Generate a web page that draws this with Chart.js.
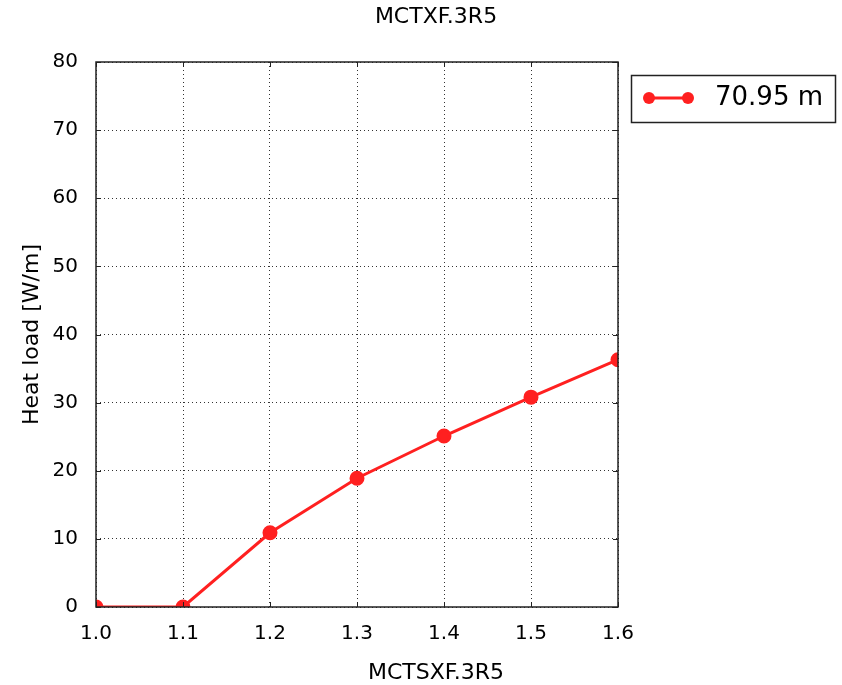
<!DOCTYPE html>
<html>
<head>
<meta charset="utf-8">
<script src="https://cdn.jsdelivr.net/npm/chart.js@4/dist/chart.umd.min.js"></script>
<style>
    html, body { margin: 0; padding: 0; background: #ffffff; }
    #main-chart { display: block; }
</style>
</head>
<body>
<canvas id="main-chart" width="842" height="685"></canvas>
<script>
const chart_width = 842;
const chart_height = 685;

// data
const x_values = [1.0, 1.1, 1.2, 1.3, 1.4, 1.5, 1.6];
const heat_load = [0, 0, 10.9, 18.9, 25.1, 30.8, 36.3];
const series_label = "70.95 m";

const chart_title = "MCTXF.3R5";
const x_title = "MCTSXF.3R5";
const y_title = "Heat load [W/m]";

const line_color = "rgb(255,32,32)";
const font_family = "'DejaVu Sans', sans-serif";

// matplotlib style: inner ticks, title, axis labels, boxed legend
const decorPlugin = {
    id: "decor",
    afterDatasetsDraw(chart) {
        const ctx = chart.ctx;
        const area = chart.chartArea;
        const xs = chart.scales.x;
        const ys = chart.scales.y;
        const tick_len = 5;

        ctx.save();
        ctx.strokeStyle = "#222222";
        ctx.lineWidth = 1;
        ctx.beginPath();
        xs.ticks.forEach(t => {
            const px = Math.round(xs.getPixelForValue(t.value)) + 0.5;
            ctx.moveTo(px, area.bottom);
            ctx.lineTo(px, area.bottom - tick_len);
            ctx.moveTo(px, area.top);
            ctx.lineTo(px, area.top + tick_len);
        });
        ys.ticks.forEach(t => {
            const py = Math.round(ys.getPixelForValue(t.value)) + 0.5;
            ctx.moveTo(area.left, py);
            ctx.lineTo(area.left + tick_len, py);
            ctx.moveTo(area.right, py);
            ctx.lineTo(area.right - tick_len, py);
        });
        ctx.stroke();

        // frame
        ctx.strokeStyle = "#222222";
        ctx.lineWidth = 1.5;
        ctx.strokeRect(area.left, area.top, area.right - area.left, area.bottom - area.top);
        ctx.restore();
    },
    afterDraw(chart) {
        const ctx = chart.ctx;
        const area = chart.chartArea;
        ctx.save();
        ctx.fillStyle = "#000000";
        ctx.textAlign = "center";
        ctx.textBaseline = "middle";

        ctx.font = "22px " + font_family;
        ctx.fillText(chart_title, 436, 17);

        ctx.font = "22px " + font_family;
        ctx.fillText(x_title, 436, 673);

        ctx.translate(32, (area.top + area.bottom) / 2);
        ctx.rotate(-Math.PI / 2);
        ctx.fillText(y_title, 0, 0);
        ctx.restore();

        // legend box
        const ds = chart.data.datasets[0];
        ctx.save();
        ctx.fillStyle = "#ffffff";
        ctx.fillRect(631.5, 75.5, 204, 47);
        ctx.strokeStyle = "#222222";
        ctx.lineWidth = 1.5;
        ctx.strokeRect(631.5, 75.5, 204, 47);

        ctx.strokeStyle = ds.borderColor;
        ctx.lineWidth = 3;
        ctx.beginPath();
        ctx.moveTo(649, 98);
        ctx.lineTo(688, 98);
        ctx.stroke();
        ctx.fillStyle = ds.pointBackgroundColor;
        [649, 688].forEach(px => {
            ctx.beginPath();
            ctx.arc(px, 98, 6, 0, Math.PI * 2);
            ctx.fill();
        });

        ctx.fillStyle = "#000000";
        ctx.font = "26px " + font_family;
        ctx.textAlign = "left";
        ctx.textBaseline = "middle";
        ctx.fillText(ds.label, 715, 98);
        ctx.restore();
    }
};

const points = x_values.map((x, i) => ({ x: x, y: heat_load[i] }));

const config = {
    type: "line",
    data: {
        datasets: [
            {
                label: series_label,
                data: points,
                borderColor: line_color,
                backgroundColor: line_color,
                pointBackgroundColor: line_color,
                pointBorderColor: line_color,
                borderWidth: 3,
                pointRadius: 6,
                pointHoverRadius: 6,
                tension: 0,
                clip: 0
            }
        ]
    },
    options: {
        responsive: false,
        animation: false,
        layout: {
            padding: { left: 0, right: 224, top: 62, bottom: 0 }
        },
        plugins: {
            legend: { display: false },
            title: { display: false },
            tooltip: { enabled: false }
        },
        scales: {
            x: {
                type: "linear",
                min: 1.0,
                max: 1.6,
                afterFit(scale) { scale.height = 78; },
                ticks: {
                    stepSize: 0.1,
                    color: "#000000",
                    padding: 15,
                    maxRotation: 0,
                    font: { family: font_family, size: 20 },
                    callback: v => v.toFixed(1)
                },
                grid: {
                    color: "#333333",
                    lineWidth: 1,
                    drawTicks: false
                },
                border: { display: false, dash: [1, 3] }
            },
            y: {
                min: 0,
                max: 80,
                afterFit(scale) { scale.width = 96; },
                ticks: {
                    stepSize: 10,
                    color: "#000000",
                    padding: 18,
                    font: { family: font_family, size: 20 }
                },
                grid: {
                    color: "#333333",
                    lineWidth: 1,
                    drawTicks: false
                },
                border: { display: false, dash: [1, 3] }
            }
        }
    },
    plugins: [decorPlugin]
};

const main_chart = new Chart(document.getElementById("main-chart").getContext("2d"), config);
</script>
</body>
</html>
